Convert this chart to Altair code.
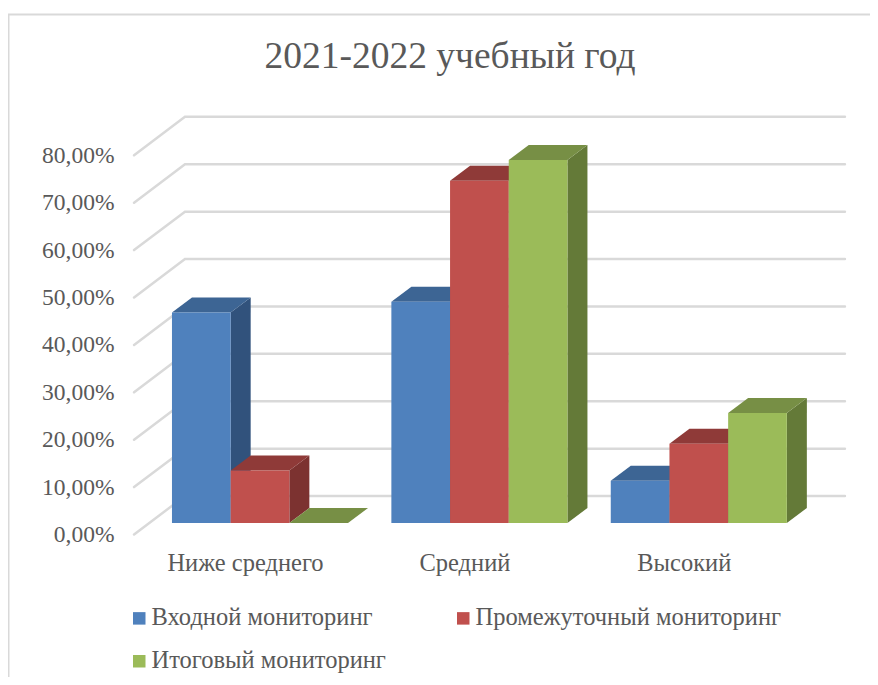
import altair as alt
import pandas as pd

# ---- chart values ----
categories = ["Ниже среднего", "Средний", "Высокий"]
series = ["Входной мониторинг", "Промежуточный мониторинг", "Итоговый мониторинг"]
vhod = [44.4, 46.7, 8.9]
prom = [11.1, 72.2, 16.7]
itog = [0.0, 76.6, 23.2]
tick_values = [0, 10, 20, 30, 40, 50, 60, 70, 80]

# ---- styles ----
front_colors = ["#4F81BD", "#C0504D", "#9BBB59"]
top_colors = ["#3D6594", "#8F3A38", "#778F45"]
side_colors = ["#31527C", "#7C3230", "#647A38"]
grid_color = "#D9D9D9"
text_color = "#595959"
font = "Liberation Serif"

# ---- pseudo-3D geometry, in data units ----
bar_w = 0.2675      # bar width, in category steps
depth_x = 0.0912    # bar depth along x
depth_y = 3.165     # bar depth along y (percentage points)
base = 2.43         # height of the bars' front base above the front floor edge
wall_x0, wall_x1, wall_x2 = -0.574, -0.342, 2.666
wall_dy = 8.12

all_values = [vhod, prom, itog]
fronts, sides, tops = [], [], []
for i, cat in enumerate(categories):
    for j, name in enumerate(series):
        v = all_values[j][i]
        x0 = i + (j - 1.5) * bar_w
        x1 = x0 + bar_w
        fronts.append(dict(series=name, x=x0, x2=x1, y=base, y2=base + v))
        pid = f"{i}-{j}"
        for px, lo, hi in [(x1, base, base + v),
                           (x1 + depth_x, base + depth_y, base + v + depth_y)]:
            sides.append(dict(pid=pid, fill=side_colors[j], x=px, y=lo, y2=hi))
        t = base + v
        for px, lo, hi in [(x0, t, t),
                           (x0 + depth_x, t, t + depth_y),
                           (x1, t, t + depth_y),
                           (x1 + depth_x, t + depth_y, t + depth_y)]:
            tops.append(dict(pid=pid, fill=top_colors[j], x=px, y=lo, y2=hi))

grid = []
for v in tick_values:
    for k, (px, py) in enumerate([(wall_x0, v), (wall_x1, v + wall_dy), (wall_x2, v + wall_dy)]):
        grid.append(dict(level=v, k=k, x=px, y=py))

x_scale = alt.Scale(domain=[-1.1486, 2.7803], nice=False, zero=False)
y_scale = alt.Scale(domain=[-30.06, 111.08], nice=False, zero=False)

x_axis = alt.Axis(
    values=[0, 1, 2],
    labelExpr="['Ниже среднего','Средний','Высокий'][datum.value]",
    domain=False, ticks=False, grid=False, title=None,
    offset=-126, labelPadding=0, labelOffset=-15, labelOverlap=False,
    labelFont=font, labelFontSize=24.5, labelColor=text_color, labelBaseline="top",
)
y_axis = alt.Axis(
    values=tick_values,
    labelExpr="replace(format(datum.value,'.2f'),'.',',')+'%'",
    domain=False, ticks=False, grid=False, title=None,
    offset=-106, labelPadding=0, labelOverlap=False,
    labelFont=font, labelFontSize=23.5, labelColor=text_color,
)

X = alt.X("x:Q", scale=x_scale, axis=x_axis)
Y = alt.Y("y:Q", scale=y_scale, axis=y_axis)

frame_left = alt.Chart().mark_rule(color=grid_color, strokeWidth=2).encode(
    x=alt.value(0.5), y=alt.value(6), y2=alt.value(669))
frame_top = alt.Chart().mark_rule(color=grid_color, strokeWidth=2).encode(
    x=alt.value(0), x2=alt.value(862), y=alt.value(6.5))

grid_layer = alt.Chart(pd.DataFrame(grid)).mark_line(
    color=grid_color, strokeWidth=2.5, strokeCap="round").encode(
    x=X, y=Y, detail="level:N", order="k:Q",
)

side_layer = alt.Chart(pd.DataFrame(sides)).mark_area(orient="vertical").encode(
    x=X, y=Y, y2="y2:Q", detail="pid:N",
    fill=alt.Fill("fill:N", scale=None),
)
top_layer = alt.Chart(pd.DataFrame(tops)).mark_area(orient="vertical").encode(
    x=X, y=Y, y2="y2:Q", detail="pid:N",
    fill=alt.Fill("fill:N", scale=None),
)
front_layer = alt.Chart(pd.DataFrame(fronts)).mark_rect().encode(
    x=X, x2="x2:Q", y=Y, y2="y2:Q",
    color=alt.Color(
        "series:N",
        # the legend fills column by column, so this order reads row by row as in the reference
        scale=alt.Scale(domain=[series[0], series[2], series[1]],
                        range=[front_colors[0], front_colors[2], front_colors[1]]),
        legend=alt.Legend(
            title=None, orient="none", legendX=116, legendY=598,
            columns=2, symbolType="square", symbolSize=156, symbolStrokeWidth=0,
            symbolOffset=3,
            labelFont=font, labelFontSize=24.5, labelColor=text_color,
            labelLimit=400, labelOffset=0, columnPadding=62, rowPadding=18,
        ),
    ),
)

chart = alt.layer(frame_left, frame_top, grid_layer, side_layer, top_layer, front_layer).properties(
    width=862, height=669,
    autosize=alt.AutoSizeParams(type="none"),
    padding=0,
    title=alt.TitleParams(
        "2021-2022 учебный год",
        font=font, fontSize=37.5, fontWeight="normal", color=text_color,
        anchor="middle", frame="group", dx=11, offset=-67,
    ),
).configure_view(stroke=None)

chart.save("out.html", embed_options={"renderer": "svg", "actions": False})
